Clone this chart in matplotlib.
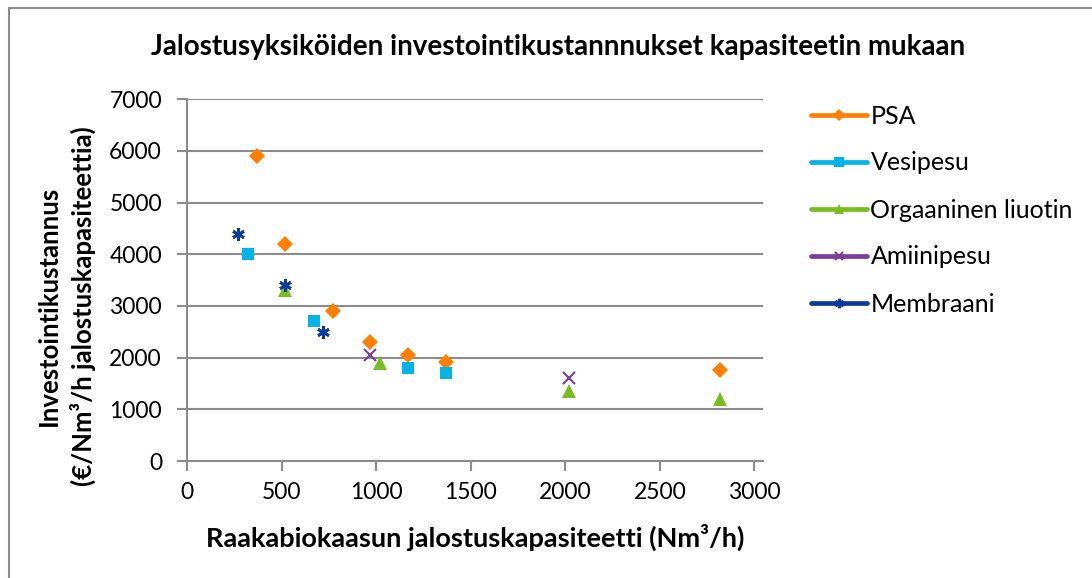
import matplotlib
matplotlib.use("Agg")
from matplotlib import pyplot as plt
from matplotlib.lines import Line2D
from matplotlib.patches import Rectangle

plt.rcParams['font.family'] = ['Lato', 'DejaVu Sans']

# data (x = Nm3/h, y = EUR per Nm3/h)
psa_x = [370, 520, 770, 970, 1170, 1370, 2820]
psa_y = [5900, 4200, 2900, 2300, 2060, 1910, 1760]
vesi_x = [320, 670, 1170, 1370]
vesi_y = [4000, 2700, 1800, 1700]
org_x = [520, 1020, 2020, 2820]
org_y = [3300, 1900, 1350, 1200]
amiini_x = [970, 2020]
amiini_y = [2050, 1600]
memb_x = [270, 520, 720]
memb_y = [4400, 3400, 2500]

labels = ["PSA", "Vesipesu", "Orgaaninen liuotin", "Amiinipesu", "Membraani"]
colors = ["#FF8000", "#00B4E6", "#78BE20", "#7D3C98", "#0A3A9E"]
markers = ["D", "s", "^", "x", (6, 2, 0)]
msizes = [8, 9, 10, 8.5, 9]
mews = [0, 0, 0, 1.5, 2]

series = [(psa_x, psa_y), (vesi_x, vesi_y), (org_x, org_y),
          (amiini_x, amiini_y), (memb_x, memb_y)]

fig = plt.figure(figsize=(10.92, 5.78), dpi=100)
ax = fig.add_axes([187 / 1092, 1 - 461 / 578, (763 - 187) / 1092, (461 - 99.3) / 578])

for (xs, ys), c, m, ms, mw in zip(series, colors, markers, msizes, mews):
    ax.plot(xs, ys, linestyle="none", marker=m, color=c, markersize=ms,
            markeredgewidth=mw, zorder=3)

ax.set_xlim(0, 3045)
ax.set_ylim(0, 7000)
ax.set_xticks(range(0, 3001, 500))
ax.set_yticks(range(0, 7001, 1000))
ax.yaxis.grid(True, color="#8C8C8C", linewidth=1.5)
ax.set_axisbelow(True)
for s in ["top", "right"]:
    ax.spines[s].set_visible(False)
for s in ["left", "bottom"]:
    ax.spines[s].set_color("#8C8C8C")
    ax.spines[s].set_linewidth(1.5)
ax.tick_params(colors="#8C8C8C", labelcolor="black", labelsize=16.5,
               width=1.5, length=7, direction="out")
ax.tick_params(axis="x", pad=8)
ax.tick_params(axis="y", pad=11)

ax.set_xlabel("Raakabiokaasun jalostuskapasiteetti (Nm³/h)", fontsize=19.5,
              fontweight="bold")
ax.xaxis.set_label_coords(0.5, (461 - 537) / 361.7, transform=ax.transAxes)
ax.xaxis.label.set_va("center")
ax.set_ylabel("Investointikustannus\n(€/Nm³/h jalostuskapasiteettia)", fontsize=18.5,
              fontweight="bold", linespacing=1.4)
ax.yaxis.set_label_coords((66 - 187) / 576, (461 - 306) / 361.7, transform=ax.transAxes)
ax.yaxis.label.set_va("center")

fig.text(558 / 1092, 1 - 47 / 578, "Jalostusyksiköiden investointikustannnukset kapasiteetin mukaan",
         ha="center", va="center", fontsize=20, fontweight="bold")

handles = [Line2D([0], [0], color=c, linewidth=3.4, marker=m, markersize=ms * 0.75,
                  markeredgewidth=mw, solid_capstyle="round")
           for c, m, ms, mw in zip(colors, markers, msizes, mews)]
fig.legend(handles, labels, loc="upper left", bbox_to_anchor=(788 / 1092, 1 - 82 / 578),
           frameon=False, fontsize=18, handlelength=2.24, handletextpad=0.16,
           labelspacing=0.96, borderpad=0.4)

# chart border (only top and left edges are visible in the crop)
fig.patches.append(Rectangle((9 / 1092, -0.1), 1.2, 1 - 8.5 / 578 + 0.1,
                             transform=fig.transFigure, fill=False,
                             edgecolor="#8C8C8C", linewidth=1.5))

fig.savefig("out.png", dpi=100)
